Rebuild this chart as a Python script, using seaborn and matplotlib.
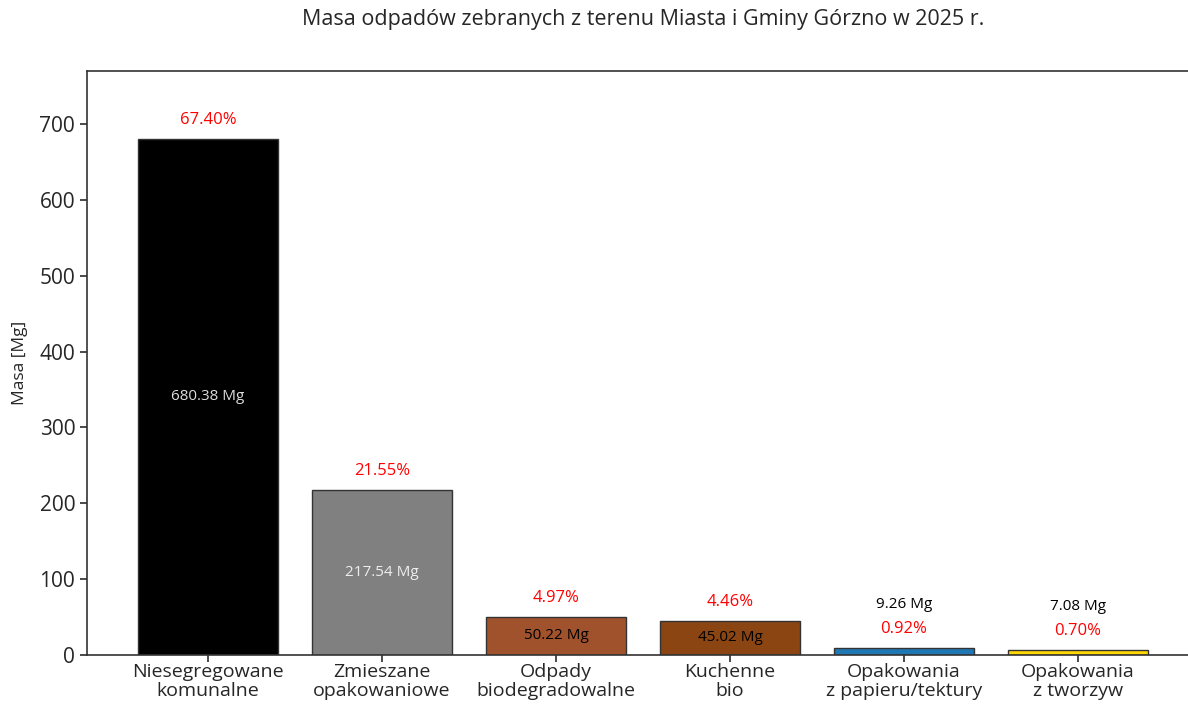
import matplotlib
matplotlib.use("Agg")
import matplotlib.pyplot as plt
import seaborn as sns
import pandas as pd

categories = ["Niesegregowane\nkomunalne", "Zmieszane\nopakowaniowe", "Odpady\nbiodegradowalne",
              "Kuchenne\nbio", "Opakowania\nz papieru/tektury", "Opakowania\nz tworzyw"]
masses = [680.38, 217.54, 50.22, 45.02, 9.26, 7.08]
percents = ["67.40%", "21.55%", "4.97%", "4.46%", "0.92%", "0.70%"]
colors = ["#000000", "#808080", "#A0522D", "#8B4513", "#1f77b4", "#FFD700"]
inner_text_colors = ["#dddddd", "#eeeeee", "black", "black", "black", "black"]

sns.set_theme(style="white")
plt.rcParams['font.family'] = ['Open Sans', 'DejaVu Sans']

df = pd.DataFrame({"cat": categories, "mass": masses})

fig = plt.figure(figsize=(11.88, 7.05), dpi=100)
ax = fig.add_axes([87/1188, 50/705, 1112/1188, 584/705])

sns.barplot(data=df, x="cat", y="mass", hue="cat", palette=colors, legend=False,
            width=0.8, edgecolor="#333333", linewidth=1.0, saturation=1, ax=ax)

ax.set_xlim(-0.695, 5.695)
ax.set_ylim(0, 770)
ax.set_xlabel("")
ax.set_ylabel("Masa [Mg]", fontsize=12.5, labelpad=8)
ax.set_title("Masa odpadów zebranych z terenu Miasta i Gminy Górzno w 2025 r.", fontsize=15.5, pad=33)
ax.tick_params(axis="x", labelsize=14, length=5, color="#333333", bottom=True, pad=1)
ax.tick_params(axis="y", labelsize=15, length=5, color="#333333", left=True)
for lbl in ax.get_xticklabels():
    lbl.set_linespacing(1.05)
for s in ax.spines.values():
    s.set_color("#333333")
    s.set_linewidth(1.2)

for i, (m, p) in enumerate(zip(masses, percents)):
    ax.text(i, m + 25, p, ha="center", va="center", color="red", fontsize=12)
    if m > 20:
        ax.text(i, m / 2, f"{m:.2f} Mg", ha="center", va="center", color=inner_text_colors[i], fontsize=11)
    else:
        ax.text(i, m + 57, f"{m:.2f} Mg", ha="center", va="center", color="black", fontsize=11)

fig.savefig("out.png", dpi=100)
